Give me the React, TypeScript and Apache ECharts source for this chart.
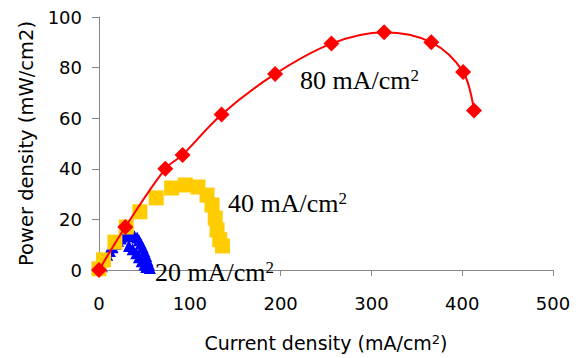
import React, { useEffect, useRef } from "react";
import * as echarts from "echarts";

// 80 mA/cm2 series (red diamonds, smooth line)
const redX = [0, 29, 73, 92, 135, 194, 256, 314, 366, 401, 413];
const redY = [0, 17, 40, 45.5, 61.5, 77.5, 89.5, 94, 90, 78.3, 63];

// 40 mA/cm2 series (yellow squares)
const yellowX = [0, 5, 17.5, 30, 45, 63, 80, 95, 109, 119, 124.5, 128, 130, 133, 136];
const yellowY = [0.5, 4, 11, 17, 23, 28.5, 32.4, 33.6, 32.8, 29.6, 25.7, 20.5, 15.8, 12, 9.5];

// 20 mA/cm2 series (blue triangles)
const blueX = [0, 3, 6, 9, 12, 15, 18, 21, 24, 27, 30, 33, 36, 39, 42, 44, 46, 48, 50, 52, 53.5, 55, 56, 33, 37, 41, 44, 47, 50, 52];
const blueY = [0, 1.5, 4, 6, 7.5, 9, 10.3, 11.5, 12.5, 13.2, 13.5, 13.6, 13.5, 13.3, 12.8, 11.8, 10.5, 9, 7.3, 5.5, 3.8, 2.2, 0.8, 9.5, 8.2, 6.6, 5, 3.5, 2.2, 1.2];

const xTicks = [0, 100, 200, 300, 400, 500];
const yTicks = [0, 20, 40, 60, 80, 100];

const SANS = "DejaVu Sans";
const SERIF = "Liberation Serif";

const zip = (xs: number[], ys: number[]) => xs.map((x, i) => [x, ys[i]]);

export default function App() {
  const ref = useRef<HTMLDivElement>(null);
  useEffect(() => {
    document.body.style.margin = "0";
    const chart = echarts.init(ref.current!, null, { renderer: "svg" });
    const axisColor = "#868686";
    const annRich = {
      sup: { fontSize: 17, fontFamily: SERIF, color: "#000", verticalAlign: "top" as const, lineHeight: 10 },
    };
    chart.setOption({
      animation: false,
      backgroundColor: "#fff",
      grid: { left: 99, right: 26, top: 17, bottom: 88, containLabel: false },
      xAxis: {
        type: "value",
        min: xTicks[0],
        max: xTicks[xTicks.length - 1],
        interval: xTicks[1] - xTicks[0],
        splitLine: { show: false },
        axisLine: { show: true, lineStyle: { color: axisColor, width: 1 } },
        axisTick: { show: true, inside: false, length: 6, lineStyle: { color: axisColor } },
        axisLabel: { color: "#000", fontSize: 18, fontFamily: SANS, margin: 24 },
        name: "Current density (mA/cm{sup|2})",
        nameLocation: "middle",
        nameGap: 63,
        nameTextStyle: {
          color: "#000",
          fontSize: 19,
          fontFamily: SANS,
          rich: { sup: { fontSize: 13, fontFamily: SANS, color: "#000", verticalAlign: "top", lineHeight: 8 } },
        },
      },
      yAxis: {
        type: "value",
        min: yTicks[0],
        max: yTicks[yTicks.length - 1],
        interval: yTicks[1] - yTicks[0],
        splitLine: { show: false },
        axisLine: { show: true, lineStyle: { color: axisColor, width: 1 } },
        axisTick: { show: true, inside: false, length: 7, lineStyle: { color: axisColor } },
        axisLabel: { color: "#000", fontSize: 18, fontFamily: SANS, margin: 17 },
        name: "Power density (mW/cm2)",
        nameLocation: "middle",
        nameGap: 61,
        nameTextStyle: { color: "#000", fontSize: 19.5, fontFamily: SANS },
      },
      series: [
        {
          name: "20 mA/cm2",
          type: "scatter",
          data: zip(blueX, blueY),
          symbol: "triangle",
          symbolSize: 12,
          itemStyle: { color: "#0000FF", opacity: 1 },
          z: 2,
        },
        {
          name: "40 mA/cm2",
          type: "scatter",
          data: zip(yellowX, yellowY),
          symbol: "rect",
          symbolSize: 15,
          itemStyle: { color: "#FFCC00", opacity: 1 },
          z: 3,
        },
        {
          name: "80 mA/cm2",
          type: "line",
          data: zip(redX, redY),
          smooth: 0.35,
          symbol: "diamond",
          symbolSize: 16,
          showAllSymbol: true,
          lineStyle: { color: "#FF0000", width: 2 },
          itemStyle: { color: "#FF0000", opacity: 1 },
          z: 4,
        },
      ],
      graphic: [
        {
          type: "text",
          left: 300,
          top: 67,
          z: 10,
          style: { text: "80 mA/cm{sup|2}", fontSize: 26, fontFamily: SERIF, fill: "#000", rich: annRich },
        },
        {
          type: "text",
          left: 228,
          top: 190,
          z: 10,
          style: { text: "40 mA/cm{sup|2}", fontSize: 26, fontFamily: SERIF, fill: "#000", rich: annRich },
        },
        {
          type: "text",
          left: 155,
          top: 259,
          z: 10,
          style: { text: "20 mA/cm{sup|2}", fontSize: 26, fontFamily: SERIF, fill: "#000", rich: annRich },
        },
      ],
    });
    return () => chart.dispose();
  }, []);
  return <div ref={ref} style={{ width: 579, height: 358 }} />;
}
